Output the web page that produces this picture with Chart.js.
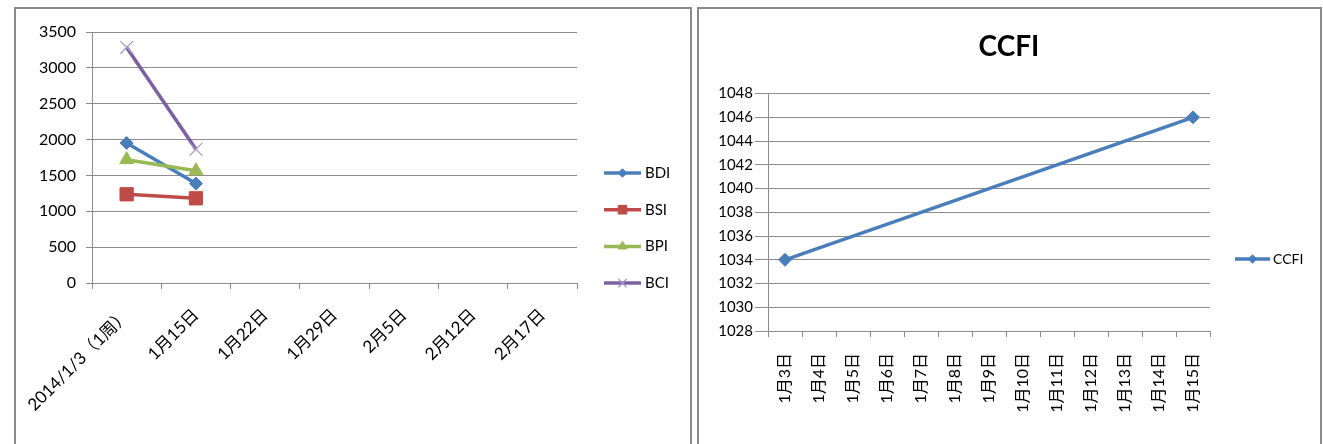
<!DOCTYPE html>
<html>
<head>
<meta charset="utf-8">
<script src="https://cdn.jsdelivr.net/npm/chart.js@4/dist/chart.umd.min.js"></script>
<style>
  html, body { margin: 0; padding: 0; background: #fff; width: 1323px; height: 444px; overflow: hidden; }
  .panel { position: absolute; border: 2px solid #8a8a8a; border-bottom: none; box-sizing: border-box; }
  #leftPanel { left: 14px; top: 7px; width: 678px; height: 437px; }
  #rightPanel { left: 697px; top: 7px; width: 625px; height: 437px; }
  canvas { position: absolute; }
  #balticCanvas { left: 0; top: 0; }
  #ccfiCanvas { left: 699px; top: 9px; }
</style>
</head>
<body>
<div class="panel" id="leftPanel"></div>
<div class="panel" id="rightPanel"></div>
<canvas id="balticCanvas" width="690" height="444"></canvas>
<canvas id="ccfiCanvas" width="620" height="435"></canvas>
<script>
// Baltic indices, weekly
const weekLabels = ['2014/1/3（1周）', '1月15日', '1月22日', '1月29日', '2月5日', '2月12日', '2月17日'];
const bdiValues = [1952, 1386, null, null, null, null, null];
const bsiValues = [1237, 1181, null, null, null, null, null];
const bpiValues = [1720, 1565, null, null, null, null, null];
const bciValues = [3285, 1865, null, null, null, null, null];
const balticTicks = { min: 0, max: 3500, step: 500 };

// China containerized freight index, daily
const dayLabels = ['1月3日', '1月4日', '1月5日', '1月6日', '1月7日', '1月8日', '1月9日',
                   '1月10日', '1月11日', '1月12日', '1月13日', '1月14日', '1月15日'];
const ccfiValues = [1034, null, null, null, null, null, null, null, null, null, null, null, 1046];
const ccfiTicks = { min: 1028, max: 1048, step: 2 };

const FONT = "Lato, 'Noto Sans CJK SC', sans-serif";
const GRID = '#8c8c8c';
const plainNumber = v => String(v);

// Excel-style key: short line with the series marker in its middle
const seriesKey = {
  id: 'seriesKey',
  afterDraw(chart, args, opts) {
    const ctx = chart.ctx;
    ctx.save();
    chart.data.datasets.forEach((ds, i) => {
      const y = opts.y + i * opts.step;
      const x0 = opts.x, x1 = opts.x + opts.line;
      ctx.strokeStyle = ds.borderColor;
      ctx.lineWidth = ds.borderWidth;
      ctx.beginPath(); ctx.moveTo(x0, y); ctx.lineTo(x1, y); ctx.stroke();
      ctx.fillStyle = ds.pointBackgroundColor;
      ctx.strokeStyle = ds.pointBorderColor;
      ctx.lineWidth = ds.pointBorderWidth;
      Chart.helpers.drawPoint(ctx, {
        pointStyle: ds.pointStyle,
        radius: ds.pointRadius * opts.markerScale,
        borderWidth: ds.pointBorderWidth
      }, (x0 + x1) / 2, y);
      ctx.fillStyle = '#000';
      ctx.font = opts.fontSize + 'px ' + FONT;
      ctx.textAlign = 'left';
      ctx.textBaseline = 'middle';
      ctx.fillText(ds.label, x1 + opts.gap, y);
    });
    ctx.restore();
  }
};

function series(label, data, color, style, radius, extra) {
  return Object.assign({
    label, data,
    borderColor: color, borderWidth: 3.5,
    pointStyle: style, pointRadius: radius,
    pointBackgroundColor: color, pointBorderColor: color, pointBorderWidth: 1,
    spanGaps: true, tension: 0
  }, extra || {});
}

new Chart(document.getElementById('balticCanvas'), {
  type: 'line',
  data: {
    labels: weekLabels,
    datasets: [
      series('BDI', bdiValues, '#4a7ebb', 'rectRot', 6.5, { order: 3 }),
      series('BSI', bsiValues, '#be4b48', 'rect', 9.4, { order: 2 }),
      series('BPI', bpiValues, '#98b954', 'triangle', 8, { order: 1 }),
      series('BCI', bciValues, '#7d60a0', 'crossRot', 9,
             { order: 0, pointBorderColor: '#a893c8', pointBackgroundColor: '#a893c8', pointBorderWidth: 1.2 })
    ]
  },
  options: {
    responsive: false,
    animation: false,
    events: [],
    layout: { padding: { left: 0, right: 113, top: 32, bottom: 0 } },
    plugins: {
      legend: { display: false },
      tooltip: { enabled: false },
      seriesKey: { x: 604, y: 173, step: 36.7, line: 37, gap: 4, markerScale: 0.65, fontSize: 15 }
    },
    scales: {
      x: {
        offset: true,
        grid: { offset: true, drawOnChartArea: false, drawTicks: true, tickLength: 6, color: GRID },
        border: { color: GRID },
        ticks: { autoSkip: false, minRotation: 45, maxRotation: 45, padding: 16, color: '#000',
                 font: { family: FONT, size: 17 } },
        afterFit(scale) { scale.height = 161; }
      },
      y: {
        min: balticTicks.min, max: balticTicks.max,
        grid: { color: GRID, tickLength: 6 },
        border: { color: GRID },
        ticks: { stepSize: balticTicks.step, padding: 10, color: '#000', callback: plainNumber,
                 font: { family: FONT, size: 16 } },
        afterFit(scale) { scale.width = 92; }
      }
    }
  },
  plugins: [seriesKey]
});

new Chart(document.getElementById('ccfiCanvas'), {
  type: 'line',
  data: {
    labels: dayLabels,
    datasets: [series('CCFI', ccfiValues, '#4a7ebb', 'rectRot', 6.5)]
  },
  options: {
    responsive: false,
    animation: false,
    events: [],
    layout: { padding: 0 },
    plugins: {
      legend: { display: false },
      tooltip: { enabled: false },
      title: { display: true, text: 'CCFI', color: '#000',
               font: { family: FONT, size: 28, weight: 'bold' },
               padding: { top: 21, bottom: 30 } },
      seriesKey: { x: 536, y: 250, step: 0, line: 35, gap: 3, markerScale: 0.65, fontSize: 14 }
    },
    scales: {
      x: {
        offset: true,
        grid: { offset: true, drawOnChartArea: false, drawTicks: true, tickLength: 6, color: GRID },
        border: { color: GRID },
        ticks: { autoSkip: false, minRotation: 90, maxRotation: 90, padding: 16, color: '#000',
                 font: { family: FONT, size: 16 } },
        afterFit(scale) { scale.height = 113; }
      },
      y: {
        min: ccfiTicks.min, max: ccfiTicks.max,
        grid: { color: GRID, tickLength: 13 },
        border: { color: GRID },
        ticks: { stepSize: ccfiTicks.step, padding: 2, color: '#000', callback: plainNumber,
                 font: { family: FONT, size: 15 } },
        afterFit(scale) { scale.width = 69; }
      },
      keySpace: {
        position: 'right',
        grid: { display: false },
        border: { display: false },
        ticks: { display: false },
        afterFit(scale) { scale.width = 109; }
      }
    }
  },
  plugins: [seriesKey]
});
</script>
</body>
</html>
